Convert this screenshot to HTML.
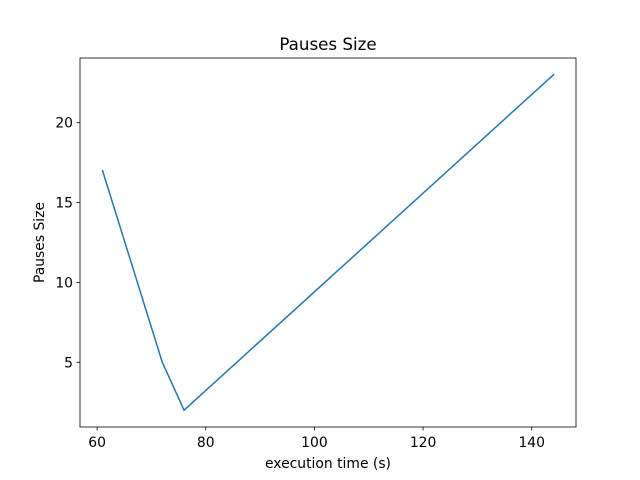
<!DOCTYPE html>
<html><head><meta charset="utf-8"><style>body{margin:0;background:#fff}svg{display:block}text{font-family:"DejaVu Sans","Liberation Sans",sans-serif;fill:#000}</style></head>
<body>
<svg id="c" width="640" height="480"></svg>
<script>
const xValues=[61,72,76,144];
const yValues=[17,5,2,23];
const xTicks=[60,80,100,120,140];
const yTicks=[5,10,15,20];
const L=80,R=576,T=58,B=427;
const xmin=Math.min(...xValues),xmax=Math.max(...xValues),ymin=Math.min(...yValues),ymax=Math.max(...yValues);
const xl=xmin-(xmax-xmin)*0.05,xh=xmax+(xmax-xmin)*0.05,yl=ymin-(ymax-ymin)*0.05,yh=ymax+(ymax-ymin)*0.05;
const X=v=>L+(v-xl)/(xh-xl)*(R-L);
const Y=v=>B-(v-yl)/(yh-yl)*(B-T);
const s=document.getElementById('c');const NS='http://www.w3.org/2000/svg';
function mk(t,a,p){const e=document.createElementNS(NS,t);for(const k in a)e.setAttribute(k,a[k]);(p||s).appendChild(e);return e;}
let t=mk('text',{x:328,y:50,'text-anchor':'middle','font-size':16.7});t.textContent='Pauses Size';


xTicks.forEach(v=>{const x=X(v);const l=mk('line',{x1:x,x2:x,y1:B,y2:B+3.5,stroke:'#000','stroke-width':0.8});


const tx=mk('text',{x:x,y:B+20,'text-anchor':'middle','font-size':13.9});tx.textContent=v;

});
yTicks.forEach(v=>{const y=Y(v);const l=mk('line',{x1:L-3.5,x2:L,y1:y,y2:y,stroke:'#000','stroke-width':0.8});


const tx=mk('text',{x:L-7,y:y+5,'text-anchor':'end','font-size':13.9});tx.textContent=v;

});
const p=mk('polyline',{points:xValues.map((v,i)=>X(v)+','+Y(yValues[i])).join(' '),fill:'none',stroke:'#1f77b4','stroke-width':1.5,'stroke-linecap':'square'});


const f=mk('rect',{x:L,y:T,width:R-L,height:B-T,fill:'none',stroke:'#000','stroke-width':0.8});


t=mk('text',{x:(L+R)/2,y:468,'text-anchor':'middle','font-size':13.9});t.textContent='execution time (s)';


t=mk('text',{x:44,y:(T+B)/2,'text-anchor':'middle','font-size':13.9,transform:'rotate(-90 44 '+(T+B)/2+')'});t.textContent='Pauses Size';


</script>
</body></html>
